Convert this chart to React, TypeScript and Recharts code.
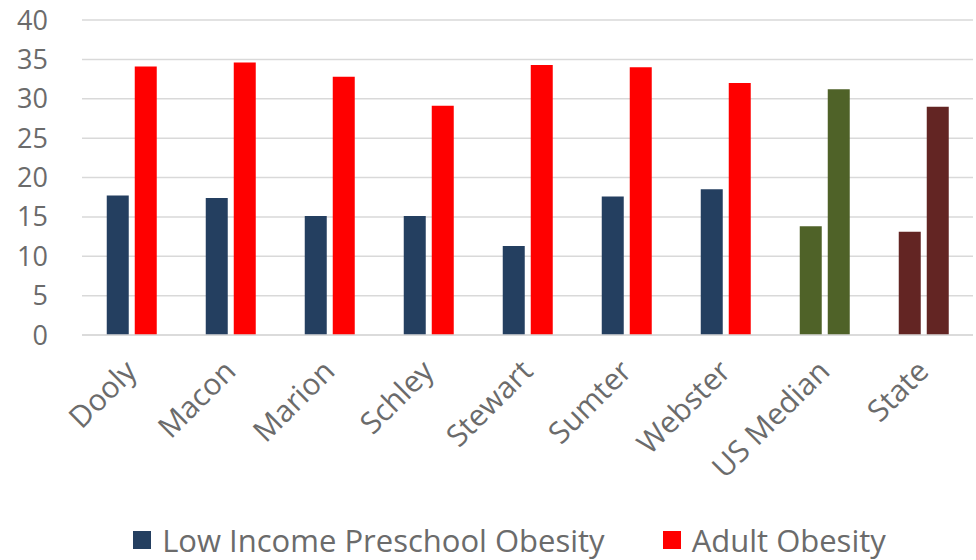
import { BarChart, Bar, XAxis, YAxis, CartesianGrid, Legend, Cell } from 'recharts'

const categories = ['Dooly', 'Macon', 'Marion', 'Schley', 'Stewart', 'Sumter', 'Webster', 'US Median', 'State']
const preschoolObesity = [17.7, 17.4, 15.1, 15.1, 11.3, 17.6, 18.5, 13.8, 13.1]
const adultObesity = [34.1, 34.6, 32.8, 29.1, 34.3, 34.0, 32.0, 31.2, 29.0]
const yTicks = [0, 5, 10, 15, 20, 25, 30, 35, 40]

const preschoolColor = '#243F60'
const adultColor = '#FF0000'
// US Median and State bars get their own colours
const specialColors: Record<string, string> = {
  'US Median': '#4F6228',
  State: '#632523',
}

const legendItems = [
  { label: 'Low Income Preschool Obesity', color: preschoolColor },
  { label: 'Adult Obesity', color: adultColor },
]

const data = categories.map((name, i) => ({
  name,
  preschool: preschoolObesity[i],
  adult: adultObesity[i],
}))

const FONT = '"Open Sans", sans-serif'
const TEXT = '#6B6B6B'

function AngledTick({ x, y, payload }: any) {
  const ax = x + 7
  const ay = y + 30
  return (
    <text
      x={ax}
      y={ay}
      transform={`rotate(-45 ${ax} ${ay})`}
      textAnchor="end"
      fill={TEXT}
      fontSize={30}
      fontFamily={FONT}
    >
      {payload.value}
    </text>
  )
}

function LegendContent() {
  return (
    <div
      style={{
        display: 'flex',
        justifyContent: 'center',
        alignItems: 'center',
        fontFamily: FONT,
        fontSize: 31,
        color: TEXT,
        paddingTop: 9,
        paddingLeft: 46,
      }}
    >
      {legendItems.map((item, i) => (
        <div key={item.label} style={{ display: 'flex', alignItems: 'center', marginLeft: i ? 58 : 0 }}>
          <span style={{ width: 18, height: 18, background: item.color, marginRight: 11, display: 'inline-block' }} />
          <span>{item.label}</span>
        </div>
      ))}
    </div>
  )
}

export default function App() {
  return (
    <div style={{ position: 'absolute', left: 0, top: 0, width: 976, height: 560, background: '#fff' }}>
      <BarChart
        width={976}
        height={560}
        data={data}
        margin={{ top: 20, right: 3, left: 0, bottom: 0 }}
        barCategoryGap="25%"
        barGap={6}
      >
        <CartesianGrid vertical={false} stroke="#D9D9D9" strokeWidth={1.5} />
        <XAxis
          dataKey="name"
          height={175}
          axisLine={{ stroke: '#D9D9D9', strokeWidth: 1.5 }}
          tickLine={false}
          interval={0}
          tick={<AngledTick />}
        />
        <YAxis
          width={82}
          domain={[0, 40]}
          ticks={yTicks}
          axisLine={false}
          tickLine={false}
          tickMargin={28}
          tick={{ fill: TEXT, fontSize: 27, fontFamily: FONT }}
        />
        <Legend
          verticalAlign="bottom"
          content={<LegendContent />}
          wrapperStyle={{ height: 50, bottom: 0 }}
        />
        <Bar dataKey="preschool" name="Low Income Preschool Obesity" fill={preschoolColor} isAnimationActive={false}>
          {data.map((d) => (
            <Cell key={d.name} fill={specialColors[d.name] ?? preschoolColor} />
          ))}
        </Bar>
        <Bar dataKey="adult" name="Adult Obesity" fill={adultColor} isAnimationActive={false}>
          {data.map((d) => (
            <Cell key={d.name} fill={specialColors[d.name] ?? adultColor} />
          ))}
        </Bar>
      </BarChart>
    </div>
  )
}
